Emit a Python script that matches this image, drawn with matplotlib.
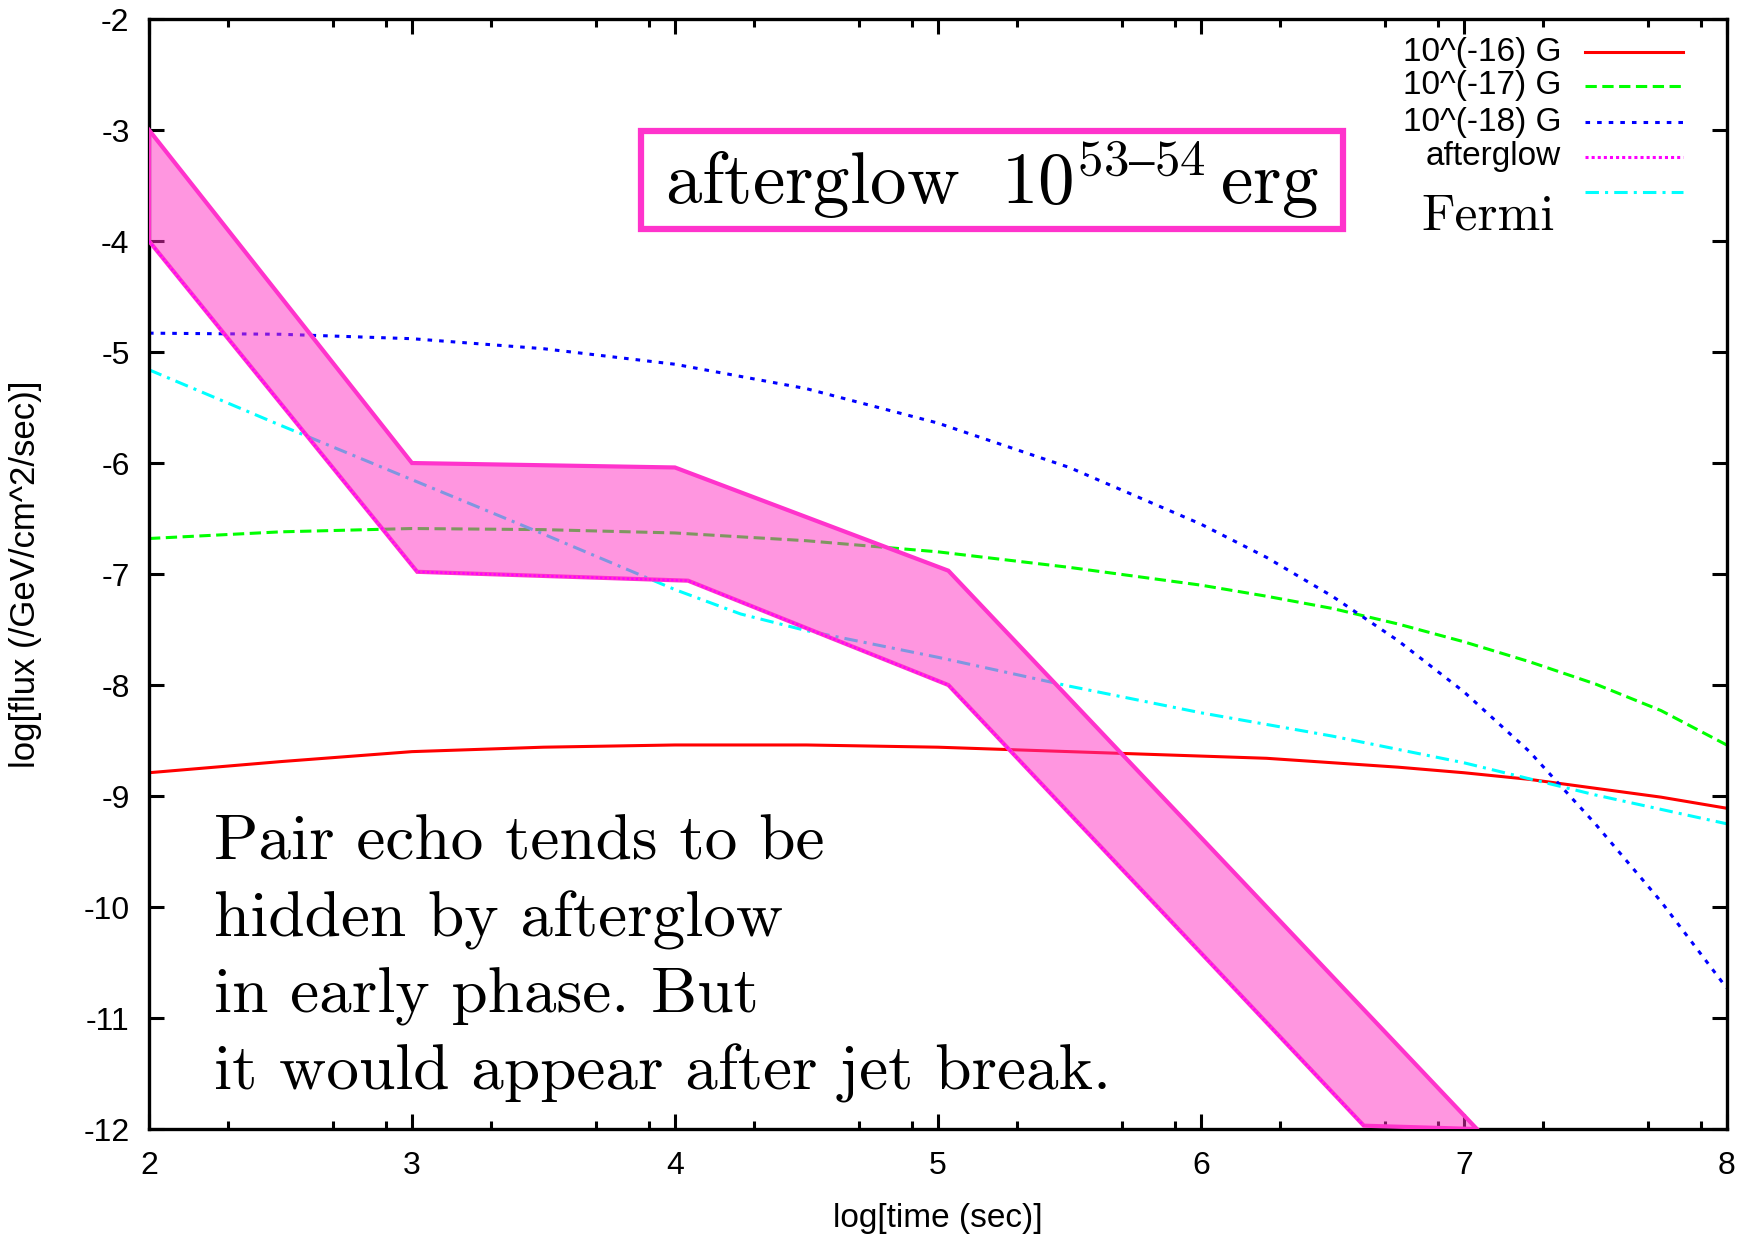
import numpy as np
import matplotlib
matplotlib.use('Agg')
import matplotlib.pyplot as plt
from matplotlib.patches import Rectangle
from matplotlib.ticker import FixedLocator

# Datos (log t, log flux)
t_curvas = np.array([2.0, 2.5, 3.0, 3.5, 4.0, 4.5, 5.0, 5.5, 6.0, 6.25, 6.5, 6.75, 7.0, 7.25, 7.5, 7.75, 8.0])
flujo_16 = np.array([-8.79, -8.69, -8.60, -8.56, -8.54, -8.54, -8.56, -8.60, -8.64, -8.66, -8.70, -8.74,
                     -8.79, -8.85, -8.93, -9.01, -9.11])
flujo_17 = np.array([-6.68, -6.62, -6.59, -6.60, -6.63, -6.70, -6.80, -6.94, -7.10, -7.20, -7.31, -7.45,
                     -7.61, -7.79, -7.99, -8.23, -8.54])
flujo_18 = np.array([-4.83, -4.84, -4.88, -4.97, -5.11, -5.33, -5.64, -6.04, -6.55, -6.85, -7.20, -7.60,
                     -8.06, -8.60, -9.25, -9.95, -10.73])
t_fermi = np.array([2.0, 2.5, 3.0, 3.5, 4.0, 4.25, 4.5, 4.75, 5.0, 5.5, 6.0, 6.5, 7.0, 7.5, 8.0])
flujo_fermi = np.array([-5.16, -5.66, -6.15, -6.64, -7.14, -7.36, -7.51, -7.63, -7.75, -8.01, -8.25,
                        -8.46, -8.70, -8.99, -9.25])

# banda del afterglow
t_sup = np.array([2.0, 3.0, 4.0, 5.04, 7.05])
flujo_sup = np.array([-3.0, -6.0, -6.04, -6.97, -12.0])
t_inf = np.array([2.0, 3.02, 4.05, 5.04, 6.62])
flujo_inf = np.array([-4.0, -6.98, -7.06, -8.0, -11.97])

etiquetas = ['10^(-16) G', '10^(-17) G', '10^(-18) G', 'afterglow', '']

plt.rcParams['font.family'] = ['Liberation Sans', 'DejaVu Sans']
plt.rcParams['mathtext.fontset'] = 'cm'
plt.rcParams['axes.unicode_minus'] = False

fig = plt.figure(figsize=(17.53, 12.35), dpi=100)
ax = fig.add_axes([0.085, 0.0858, 0.9, 0.8988])

lw = 2.2
ax.plot(t_curvas, flujo_16, color='#ff0000', lw=lw)
ax.plot(t_curvas, flujo_17, color='#00ff00', lw=lw, dashes=(3.7, 1.8))
ax.plot(t_curvas, flujo_18, color='#0000ff', lw=lw, dashes=(1.5, 2.3))
ax.plot(t_fermi, flujo_fermi, color='#00ffff', lw=lw, dashes=(4.4, 2, 1, 2))

# relleno semitransparente encima de las curvas
poly_x = np.concatenate([t_sup, t_inf[::-1]])
poly_y = np.concatenate([flujo_sup, flujo_inf[::-1]])
ax.fill(poly_x, poly_y, facecolor=(1.0, 0.18, 0.76, 0.5), edgecolor='#ff33cc', lw=3.0, zorder=5)
ax.plot(t_inf, flujo_inf, color='#ff00ff', lw=1.6, dashes=(1, 1), zorder=6)

ax.set_xlim(2, 8)
ax.set_ylim(-12, -2)
ax.set_xticks(np.arange(2, 9))
ax.set_yticks(np.arange(-12, -1))
menores = [n + np.log10(m) for n in range(2, 8) for m in (2, 5, 8)]
ax.xaxis.set_minor_locator(FixedLocator(menores))
ax.tick_params(which='both', direction='in', top=True, right=True, width=2.2, labelsize=23)
ax.tick_params(which='major', length=11)
ax.tick_params(which='minor', length=6)
ax.tick_params(axis='x', pad=16)
ax.tick_params(axis='y', pad=14)
for s in ax.spines.values():
    s.set_linewidth(2.4)

ax.set_xlabel('log[time (sec)]', fontsize=24, labelpad=16)
ax.set_ylabel('log[flux (/GeV/cm^2/sec)]', fontsize=25, labelpad=30)

# leyenda manual estilo gnuplot
estilos = [dict(color='#ff0000'), dict(color='#00ff00', dashes=(3.7, 1.8)),
           dict(color='#0000ff', dashes=(1.5, 2.3)), dict(color='#ff00ff', dashes=(1, 1)),
           dict(color='#00ffff', dashes=(4.4, 2, 1, 2))]
filas = [0.970, 0.940, 0.907, 0.876, 0.844]
for etq, est, yy in zip(etiquetas, estilos, filas):
    ax.plot([0.910, 0.972], [yy, yy], transform=ax.transAxes, lw=lw, **est)
    ax.text(0.895, yy, etq, transform=ax.transAxes, ha='right', va='center', fontsize=24)
ax.text(0.849, 0.822, 'Fermi', transform=ax.transAxes, ha='center', va='center',
        fontsize=37, family='cmr10')

# recuadro del titulo
ax.add_patch(Rectangle((0.3116, 0.8107), 0.4454, 0.0886, transform=ax.transAxes,
                       facecolor='white', edgecolor='#ff33cc', lw=4.5, zorder=8))
ax.text(0.534, 0.855, r'$\mathrm{afterglow}\ \ 10^{53\text{–}54}\,\mathrm{erg}$',
        transform=ax.transAxes, ha='center', va='center', fontsize=52.5, zorder=9)

ax.text(0.041, 0.283, 'Pair echo tends to be\nhidden by afterglow\nin early phase. But\nit would appear after jet break.',
        transform=ax.transAxes, ha='left', va='top', fontsize=47, family='cmr10',
        linespacing=1.39, zorder=8)

fig.savefig('out.png', dpi=100)
